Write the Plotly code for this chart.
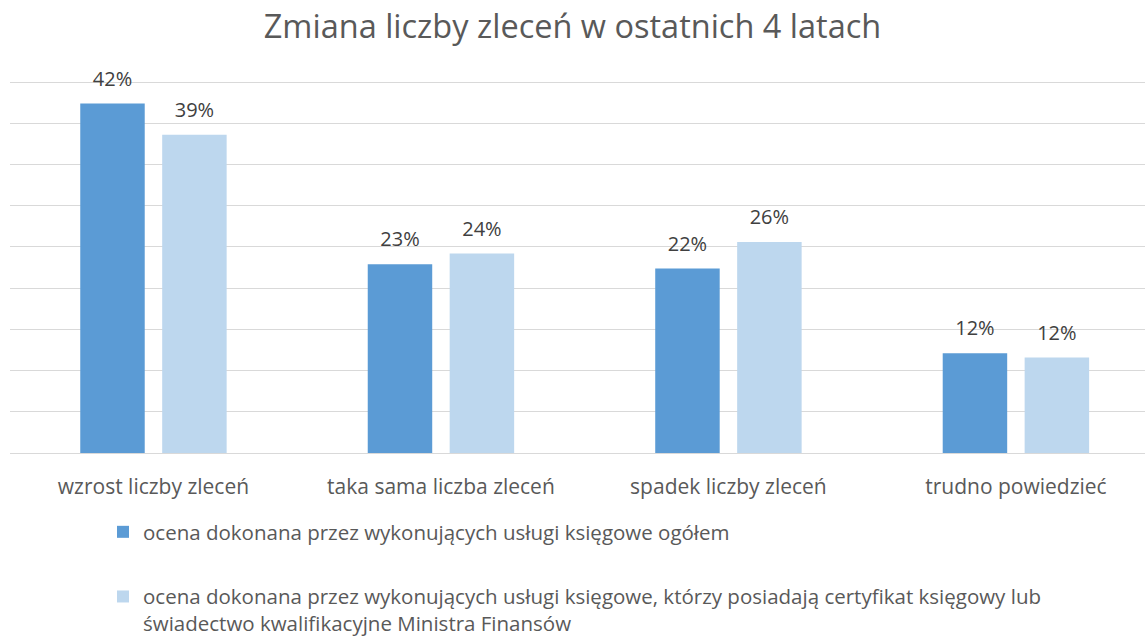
import plotly.graph_objects as go

categories = ["wzrost liczby zleceń", "taka sama liczba zleceń", "spadek liczby zleceń", "trudno powiedzieć"]
series_names = [
    "ocena dokonana przez wykonujących usługi księgowe ogółem",
    "ocena dokonana przez wykonujących usługi księgowe, którzy posiadają certyfikat księgowy lub<br>świadectwo kwalifikacyjne Ministra Finansów",
]
values_all = [42.4, 22.9, 22.4, 12.1]
values_cert = [38.6, 24.2, 25.6, 11.6]
colors = ["#5B9BD5", "#BDD7EE"]

FONT = "Open Sans"
BARGAP = 0.43

fig = go.Figure()
for i, (name, vals) in enumerate([(series_names[0], values_all), (series_names[1], values_cert)]):
    fig.add_trace(go.Bar(
        x=categories, y=vals, name=name,
        marker=dict(color=colors[i], line=dict(width=0)),
        offsetgroup=f"s{i}",
        legendgroup=f"g{i}",
        hoverinfo="skip",
    ))
# data labels, placed above each bar via grouped scatter (same offset groups)
for i, vals in enumerate([values_all, values_cert]):
    fig.add_trace(go.Scatter(
        x=categories, y=vals, mode="markers+text",
        marker=dict(size=19, opacity=0),
        texttemplate="%{y:.0f}%", textposition="top center",
        textfont=dict(family=FONT, size=20, color="#404040"),
        offsetgroup=f"s{i}", cliponaxis=False,
        showlegend=False, hoverinfo="skip",
    ))

fig.update_layout(
    width=1145, height=639,
    margin=dict(l=10, r=0, t=78, b=186, autoexpand=False),
    paper_bgcolor="white", plot_bgcolor="white",
    barmode="group", bargap=BARGAP, bargroupgap=0.213,
    scattermode="group", scattergap=BARGAP,
    title=dict(text="Zmiana liczby zleceń w ostatnich 4 latach",
               font=dict(family=FONT, size=32.5, color="#595959"),
               x=0.5, xanchor="center", y=1 - 27/639, yanchor="middle"),
    xaxis=dict(range=[-0.499, 3.449], showgrid=False, showline=False,
               ticks="outside", ticklen=15, tickcolor="rgba(0,0,0,0)",
               tickfont=dict(family=FONT, size=21, color="#595959")),
    yaxis=dict(range=[0, 45.5], dtick=5, showgrid=True, gridcolor="#D9D9D9", gridwidth=1,
               zeroline=True, zerolinecolor="#D9D9D9", zerolinewidth=1,
               showticklabels=False, ticks=""),
    showlegend=True,
    legend=dict(orientation="v", x=(103-10)/1135, xanchor="left",
                y=-(512-453)/375, yanchor="top", valign="top",
                font=dict(family=FONT, size=20.5, color="#595959"),
                tracegroupgap=35, traceorder="grouped", bgcolor="rgba(0,0,0,0)"),
    font=dict(family=FONT),
)

fig.write_html("out.html", config={"displayModeBar": False},
               post_script="document.body.style.margin='0';")
